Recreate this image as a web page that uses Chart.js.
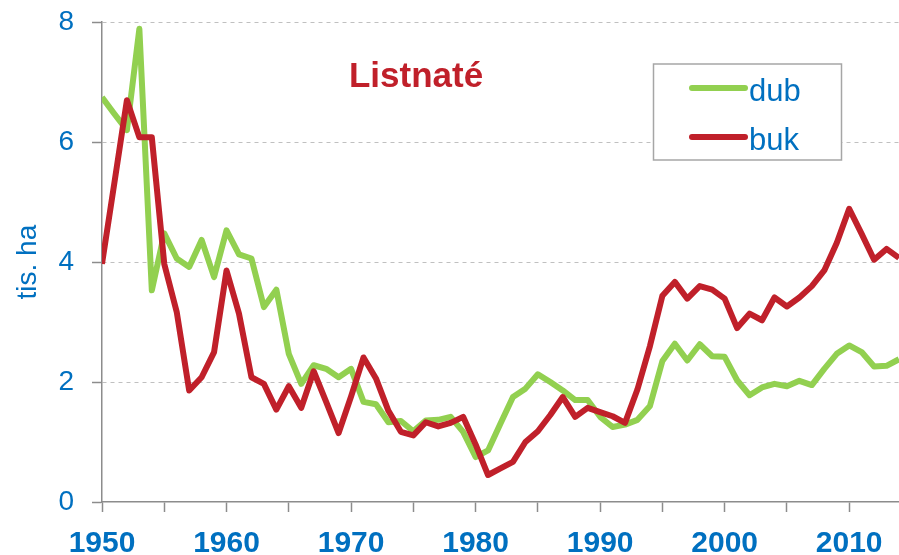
<!DOCTYPE html>
<html>
<head>
<meta charset="utf-8">
<title>Listnaté</title>
<script src="https://cdn.jsdelivr.net/npm/chart.js@4/dist/chart.umd.min.js"></script>
<style>
    html, body { margin: 0; padding: 0; background: #fff; overflow: hidden; }
    #wrap { position: relative; width: 899px; height: 555px; }
</style>
</head>
<body>
<div id="wrap"><canvas id="chart"></canvas></div>
<script>
// ---- data ----
const years = [
    1950, 1951, 1952, 1953, 1954, 1955, 1956, 1957, 1958, 1959,
    1960, 1961, 1962, 1963, 1964, 1965, 1966, 1967, 1968, 1969,
    1970, 1971, 1972, 1973, 1974, 1975, 1976, 1977, 1978, 1979,
    1980, 1981, 1982, 1983, 1984, 1985, 1986, 1987, 1988, 1989,
    1990, 1991, 1992, 1993, 1994, 1995, 1996, 1997, 1998, 1999,
    2000, 2001, 2002, 2003, 2004, 2005, 2006, 2007, 2008, 2009,
    2010, 2011, 2012, 2013, 2014
];

// dub (oak), tis. ha
const dubValues = [
    6.75, 6.47, 6.20, 7.89, 3.53, 4.48, 4.06, 3.92, 4.37, 3.75,
    4.53, 4.13, 4.06, 3.25, 3.54, 2.47, 1.97, 2.28, 2.22, 2.08,
    2.22, 1.67, 1.63, 1.33, 1.35, 1.18, 1.36, 1.37, 1.42, 1.17,
    0.75, 0.86, 1.31, 1.75, 1.89, 2.13, 2.00, 1.86, 1.70, 1.70,
    1.42, 1.25, 1.29, 1.37, 1.60, 2.35, 2.64, 2.36, 2.63, 2.43,
    2.42, 2.03, 1.78, 1.91, 1.97, 1.93, 2.02, 1.95, 2.22, 2.47,
    2.61, 2.50, 2.26, 2.27, 2.38
];

// buk (beech), tis. ha
const bukValues = [
    3.97, 5.33, 6.70, 6.08, 6.08, 3.97, 3.17, 1.86, 2.08, 2.50,
    3.86, 3.14, 2.08, 1.97, 1.54, 1.93, 1.57, 2.18, 1.67, 1.15,
    1.76, 2.41, 2.06, 1.52, 1.17, 1.11, 1.33, 1.26, 1.32, 1.42,
    0.96, 0.45, 0.56, 0.67, 1.00, 1.18, 1.45, 1.75, 1.42, 1.57,
    1.50, 1.43, 1.32, 1.88, 2.60, 3.44, 3.67, 3.39, 3.60, 3.54,
    3.39, 2.90, 3.14, 3.03, 3.41, 3.26, 3.41, 3.60, 3.86, 4.32,
    4.89, 4.47, 4.04, 4.22, 4.07
];

const yTicks = [0, 2, 4, 6, 8];
const seriesNames = ['dub', 'buk'];
const chartTitle = 'Listnaté';
const yTitle = 'tis. ha';

// ---- styling ----
const BLUE = '#0070c0';
const GREEN = '#92d050';
const RED = '#c0202a';
const AXIS = '#8c8c8c';
const FONT = "'Liberation Sans', Arial, sans-serif";

function toPoints(values) {
    return values.map((v, i) => ({ x: years[i], y: v }));
}

// title + legend drawn inside the plot area
const insidePlot = {
    id: 'insidePlot',
    afterDatasetsDraw(chart) {
        const ctx = chart.ctx;
        ctx.save();

        // title
        ctx.font = 'bold 35px ' + FONT;
        ctx.fillStyle = RED;
        ctx.textAlign = 'center';
        ctx.textBaseline = 'alphabetic';
        ctx.fillText(chartTitle, 416, 87);

        // legend box
        const box = { x: 653.5, y: 64, w: 188, h: 96 };
        ctx.fillStyle = '#fff';
        ctx.fillRect(box.x, box.y, box.w, box.h);
        ctx.strokeStyle = '#a6a6a6';
        ctx.lineWidth = 1.5;
        ctx.strokeRect(box.x, box.y, box.w, box.h);

        const rows = [88, 137];
        chart.data.datasets.forEach((ds, i) => {
            const yy = rows[i];
            ctx.strokeStyle = ds.borderColor;
            ctx.lineWidth = 6;
            ctx.lineCap = 'round';
            ctx.beginPath();
            ctx.moveTo(692, yy);
            ctx.lineTo(745, yy);
            ctx.stroke();

            ctx.font = '31px ' + FONT;
            ctx.fillStyle = BLUE;
            ctx.textAlign = 'left';
            ctx.textBaseline = 'alphabetic';
            ctx.fillText(ds.label, 749, yy + 13);
        });
        ctx.restore();
    }
};

const chart = new Chart(document.getElementById('chart'), {
    type: 'line',
    data: {
        datasets: [
            {
                label: seriesNames[0],
                data: toPoints(dubValues),
                borderColor: GREEN,
                backgroundColor: GREEN,
                borderWidth: 6,
                borderJoinStyle: 'round',
                pointRadius: 0,
                tension: 0,
                order: 1
            },
            {
                label: seriesNames[1],
                data: toPoints(bukValues),
                borderColor: RED,
                backgroundColor: RED,
                borderWidth: 6,
                borderJoinStyle: 'round',
                pointRadius: 0,
                tension: 0,
                order: 0
            }
        ]
    },
    options: {
        responsive: true,
        maintainAspectRatio: false,
        animation: false,
        layout: { padding: { top: 22, right: 0, left: 0, bottom: 0 } },
        plugins: {
            legend: { display: false },
            tooltip: { enabled: false },
            title: { display: false }
        },
        scales: {
            x: {
                type: 'linear',
                min: years[0],
                max: years[years.length - 1],
                afterFit: scale => { scale.height = 53; },
                ticks: {
                    stepSize: 5,
                    includeBounds: false,
                    autoSkip: false,
                    maxRotation: 0,
                    padding: 14,
                    color: BLUE,
                    font: { family: FONT, size: 30, weight: 'bold' },
                    callback: v => (v % 10 === 0 ? String(v) : '')
                },
                grid: {
                    drawOnChartArea: false,
                    drawTicks: true,
                    tickLength: 10,
                    tickColor: AXIS,
                    tickWidth: 1.5
                },
                border: { color: AXIS, width: 1.5 }
            },
            y: {
                min: yTicks[0],
                max: yTicks[yTicks.length - 1],
                afterFit: scale => { scale.width = 102; },
                afterBuildTicks: scale => { scale.ticks = yTicks.map(v => ({ value: v })); },
                ticks: {
                    padding: 18,
                    color: BLUE,
                    font: { family: FONT, size: 28, lineHeight: 0.3 }
                },
                grid: {
                    color: ctx => (ctx.tick && ctx.tick.value === 0 ? 'rgba(0,0,0,0)' : '#c0c0c0'),
                    lineWidth: 1,
                    tickLength: 10,
                    tickColor: AXIS,
                    tickWidth: 1.5,
                    tickBorderDash: []
                },
                border: { color: AXIS, width: 1.5, dash: [4, 4] },
                title: {
                    display: true,
                    text: yTitle,
                    color: BLUE,
                    font: { family: FONT, size: 28 },
                    padding: { top: 11, bottom: 0 }
                }
            }
        }
    },
    plugins: [insidePlot]
});
</script>
</body>
</html>
